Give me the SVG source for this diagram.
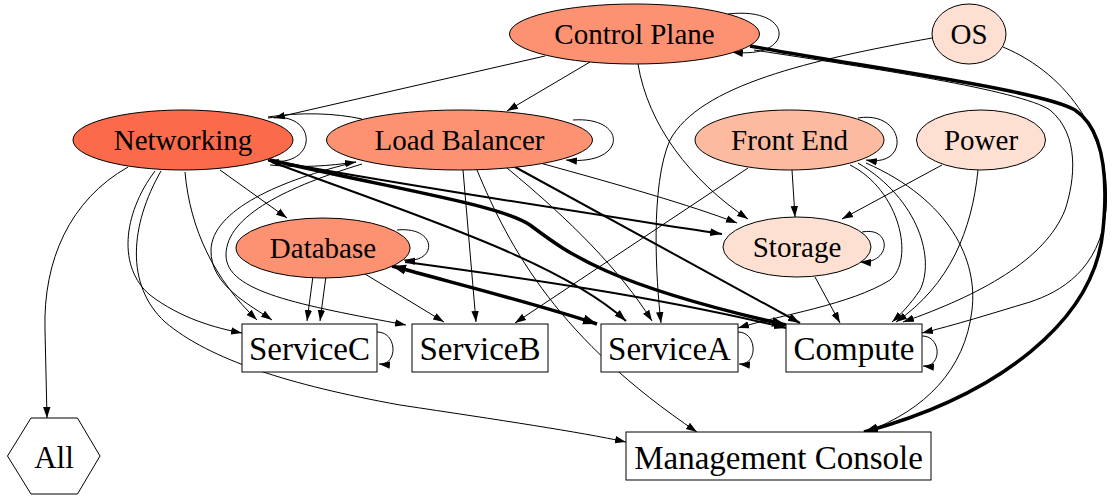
<svg xmlns="http://www.w3.org/2000/svg" width="1113" height="497" viewBox="0 0 1113 497">
  <style>
    .node ellipse, .node rect, .node polygon { stroke: #000; stroke-width: 1; }
    .node text { font-family: "Liberation Serif", "Times New Roman", serif; fill: #000; text-anchor: middle; }
    .el text { font-size: 29px; }
    .bx text { font-size: 33px; }
    .edges path { fill: none; stroke: #000; stroke-width: 1; }
    .edges path.e { marker-end: url(#arr); }
    .edges path.m { stroke-width: 2; marker-end: url(#arrM); }
    .edges path.t { stroke-width: 3.5; marker-end: url(#arrT); }
    .c1 { fill: #fb6a4a; }
    .c2 { fill: #fc9272; }
    .c3 { fill: #fcbba1; }
    .c4 { fill: #fee0d2; }
  </style>
  <defs>
    <marker id="arr" markerUnits="userSpaceOnUse" markerWidth="13" markerHeight="9" refX="11" refY="4.5" orient="auto">
      <path d="M0,0.8 L11,4.5 L0,8.2 Z" fill="#000"/>
    </marker>
    <marker id="arrM" markerUnits="userSpaceOnUse" markerWidth="14" markerHeight="10" refX="12" refY="5" orient="auto">
      <path d="M0,1 L12,5 L0,9 Z" fill="#000"/>
    </marker>
    <marker id="arrT" markerUnits="userSpaceOnUse" markerWidth="16" markerHeight="12" refX="14" refY="6" orient="auto">
      <path d="M0,1 L14,6 L0,11 Z" fill="#000"/>
    </marker>
    <marker id="arrTs" markerUnits="userSpaceOnUse" markerWidth="16" markerHeight="12" refX="14" refY="6" orient="auto-start-reverse">
      <path d="M0,1 L14,6 L0,11 Z" fill="#000"/>
    </marker>
  </defs>

  <rect width="1113" height="497" fill="#fff"/>

  <g id="connectors" class="edges">
    <!-- Control Plane -->
    <path class="e" d="M728,14 C795,6 796,60 732,52"/>
    <path class="e" d="M545,56 L274,118"/>
    <path class="e" d="M590,62 L507,111"/>
    <path class="e" d="M638,64 C648,125 690,180 748,219"/>
    <path class="e" d="M754,50 C870,68 1020,90 1050,110 C1080,135 1075,180 1065,210 C1045,260 980,295 903,322"/>
    <path class="t" d="M750,46 C870,68 1040,90 1075,110 C1105,130 1108,180 1103,230 C1095,320 1000,395 864,432"/>
    <!-- OS -->
    <path class="e" d="M932,38 C810,60 700,85 670,140 C650,185 656,280 661,323"/>
    <path class="e" d="M1003,47 C1070,75 1112,140 1106,210 C1100,270 1060,292 1030,302 C990,314 955,325 922,333"/>
    <!-- Power -->
    <path class="e" d="M942,165 L842,219"/>
    <path class="e" d="M978,170 C972,230 950,285 896,322"/>
    <!-- Front End -->
    <path class="e" d="M858,118 C905,110 912,168 866,160"/>
    <path class="e" d="M792,170 L795,217"/>
    <path class="e" d="M748,168 L515,323"/>
    <path class="e" d="M850,165 C900,190 915,260 890,280 C850,305 780,315 738,328"/>
    <path class="e" d="M858,163 C920,200 935,260 920,290 C910,305 900,315 892,322"/>
    <path class="e" d="M866,163 C950,200 978,260 972,310 C965,370 925,410 866,432"/>
    <!-- Networking -->
    <path class="e" d="M268,118 C318,110 320,168 268,161"/>
    <path d="M268,117 C300,112 335,113 362,119"/>
    <path class="e" d="M220,170 L287,218"/>
    <path class="e" d="M128,167 C70,200 43,260 45,330 L47,418"/>
    <path class="e" d="M155,171 C122,215 118,268 150,295 C180,318 215,328 242,333"/>
    <path class="e" d="M161,171 C130,225 125,285 165,322 C210,360 290,385 400,405 C500,420 580,432 626,442"/>
    <path class="e" d="M185,172 C190,230 215,280 257,320"/>
    <path class="m" d="M268,160 C400,185 600,215 722,234"/>
    <path class="t" d="M270,160 C400,190 500,205 530,225 C570,255 610,285 786,325"/>
    <path class="m" d="M272,162 C400,210 560,260 626,321"/>
    <!-- Load Balancer -->
    <path class="e" d="M573,120 C628,116 628,166 566,160"/>
    <path class="e" d="M356,162 C280,180 212,210 211,250 C210,285 250,305 272,320"/>
    <path class="e" d="M270,165 C300,168 330,166 356,162"/>
    <path class="e" d="M362,164 C290,186 226,215 226,255 C226,292 300,305 406,325"/>
    <path class="e" d="M463,170 L476,322"/>
    <path class="e" d="M477,170 C510,250 560,340 697,432"/>
    <path class="e" d="M507,168 C570,220 620,270 652,321"/>
    <path class="m" d="M515,167 L800,323"/>
    <path class="e" d="M540,163 C620,185 690,205 737,223"/>
    <!-- Database -->
    <path class="e" d="M397,230 C438,226 438,264 404,260"/>
    <path class="e" d="M313,276 L307,321"/>
    <path class="e" d="M326,276 L320,321"/>
    <path class="e" d="M365,274 L444,322"/>
    <path class="m" d="M405,262 C500,275 650,295 786,328"/>
    <path class="t" style="marker-start:url(#arrTs)" d="M392,266 C480,290 540,305 597,324"/>
    <!-- Storage -->
    <path class="e" d="M862,232 C892,226 892,264 860,262"/>
    <path class="e" d="M815,277 L840,323"/>
    <!-- box self-loops -->
    <path class="e" d="M377,332 C398,332 398,366 379,364"/>
    <path class="e" d="M738,332 C758,332 758,366 739,364"/>
    <path class="e" d="M922,336 C942,336 942,368 923,366"/>
  </g>

  <g id="control-plane" class="node el"><ellipse class="c2" cx="634.5" cy="34" rx="125" ry="30"/><text x="634.5" y="44">Control Plane</text></g>
  <g id="os" class="node el"><ellipse class="c4" cx="969" cy="34" rx="37" ry="30"/><text x="969" y="44">OS</text></g>
  <g id="networking" class="node el"><ellipse class="c1" cx="183" cy="140" rx="110" ry="30"/><text x="183" y="150">Networking</text></g>
  <g id="load-balancer" class="node el"><ellipse class="c2" cx="459.5" cy="140" rx="133" ry="30"/><text x="459.5" y="150">Load Balancer</text></g>
  <g id="front-end" class="node el"><ellipse class="c3" cx="789.5" cy="140" rx="94.5" ry="30"/><text x="789.5" y="150">Front End</text></g>
  <g id="power" class="node el"><ellipse class="c4" cx="981" cy="140" rx="64.5" ry="30"/><text x="981" y="150">Power</text></g>
  <g id="database" class="node el"><ellipse class="c2" cx="323" cy="248" rx="87" ry="30"/><text x="323" y="258">Database</text></g>
  <g id="storage" class="node el"><ellipse class="c4" cx="797" cy="247" rx="74" ry="30"/><text x="797" y="257">Storage</text></g>
  <g id="service-c" class="node bx"><rect x="242" y="324" width="135" height="48" fill="#fff"/><text x="309.5" y="360">ServiceC</text></g>
  <g id="service-b" class="node bx"><rect x="412" y="324" width="136" height="48" fill="#fff"/><text x="480" y="360">ServiceB</text></g>
  <g id="service-a" class="node bx"><rect x="601" y="324" width="137" height="48" fill="#fff"/><text x="669.5" y="360">ServiceA</text></g>
  <g id="compute" class="node bx"><rect x="786" y="324" width="136" height="48" fill="#fff"/><text x="854" y="360">Compute</text></g>
  <g id="management-console" class="node bx"><rect x="626" y="432" width="305" height="48" fill="#fff"/><text x="778.5" y="469">Management Console</text></g>
  <g id="all" class="node"><polygon points="7.5,456 31,418 77.5,418 100,456 77.5,494 31,494" fill="#fff"/><text x="54" y="468" style="font-size:31px">All</text></g>
</svg>
